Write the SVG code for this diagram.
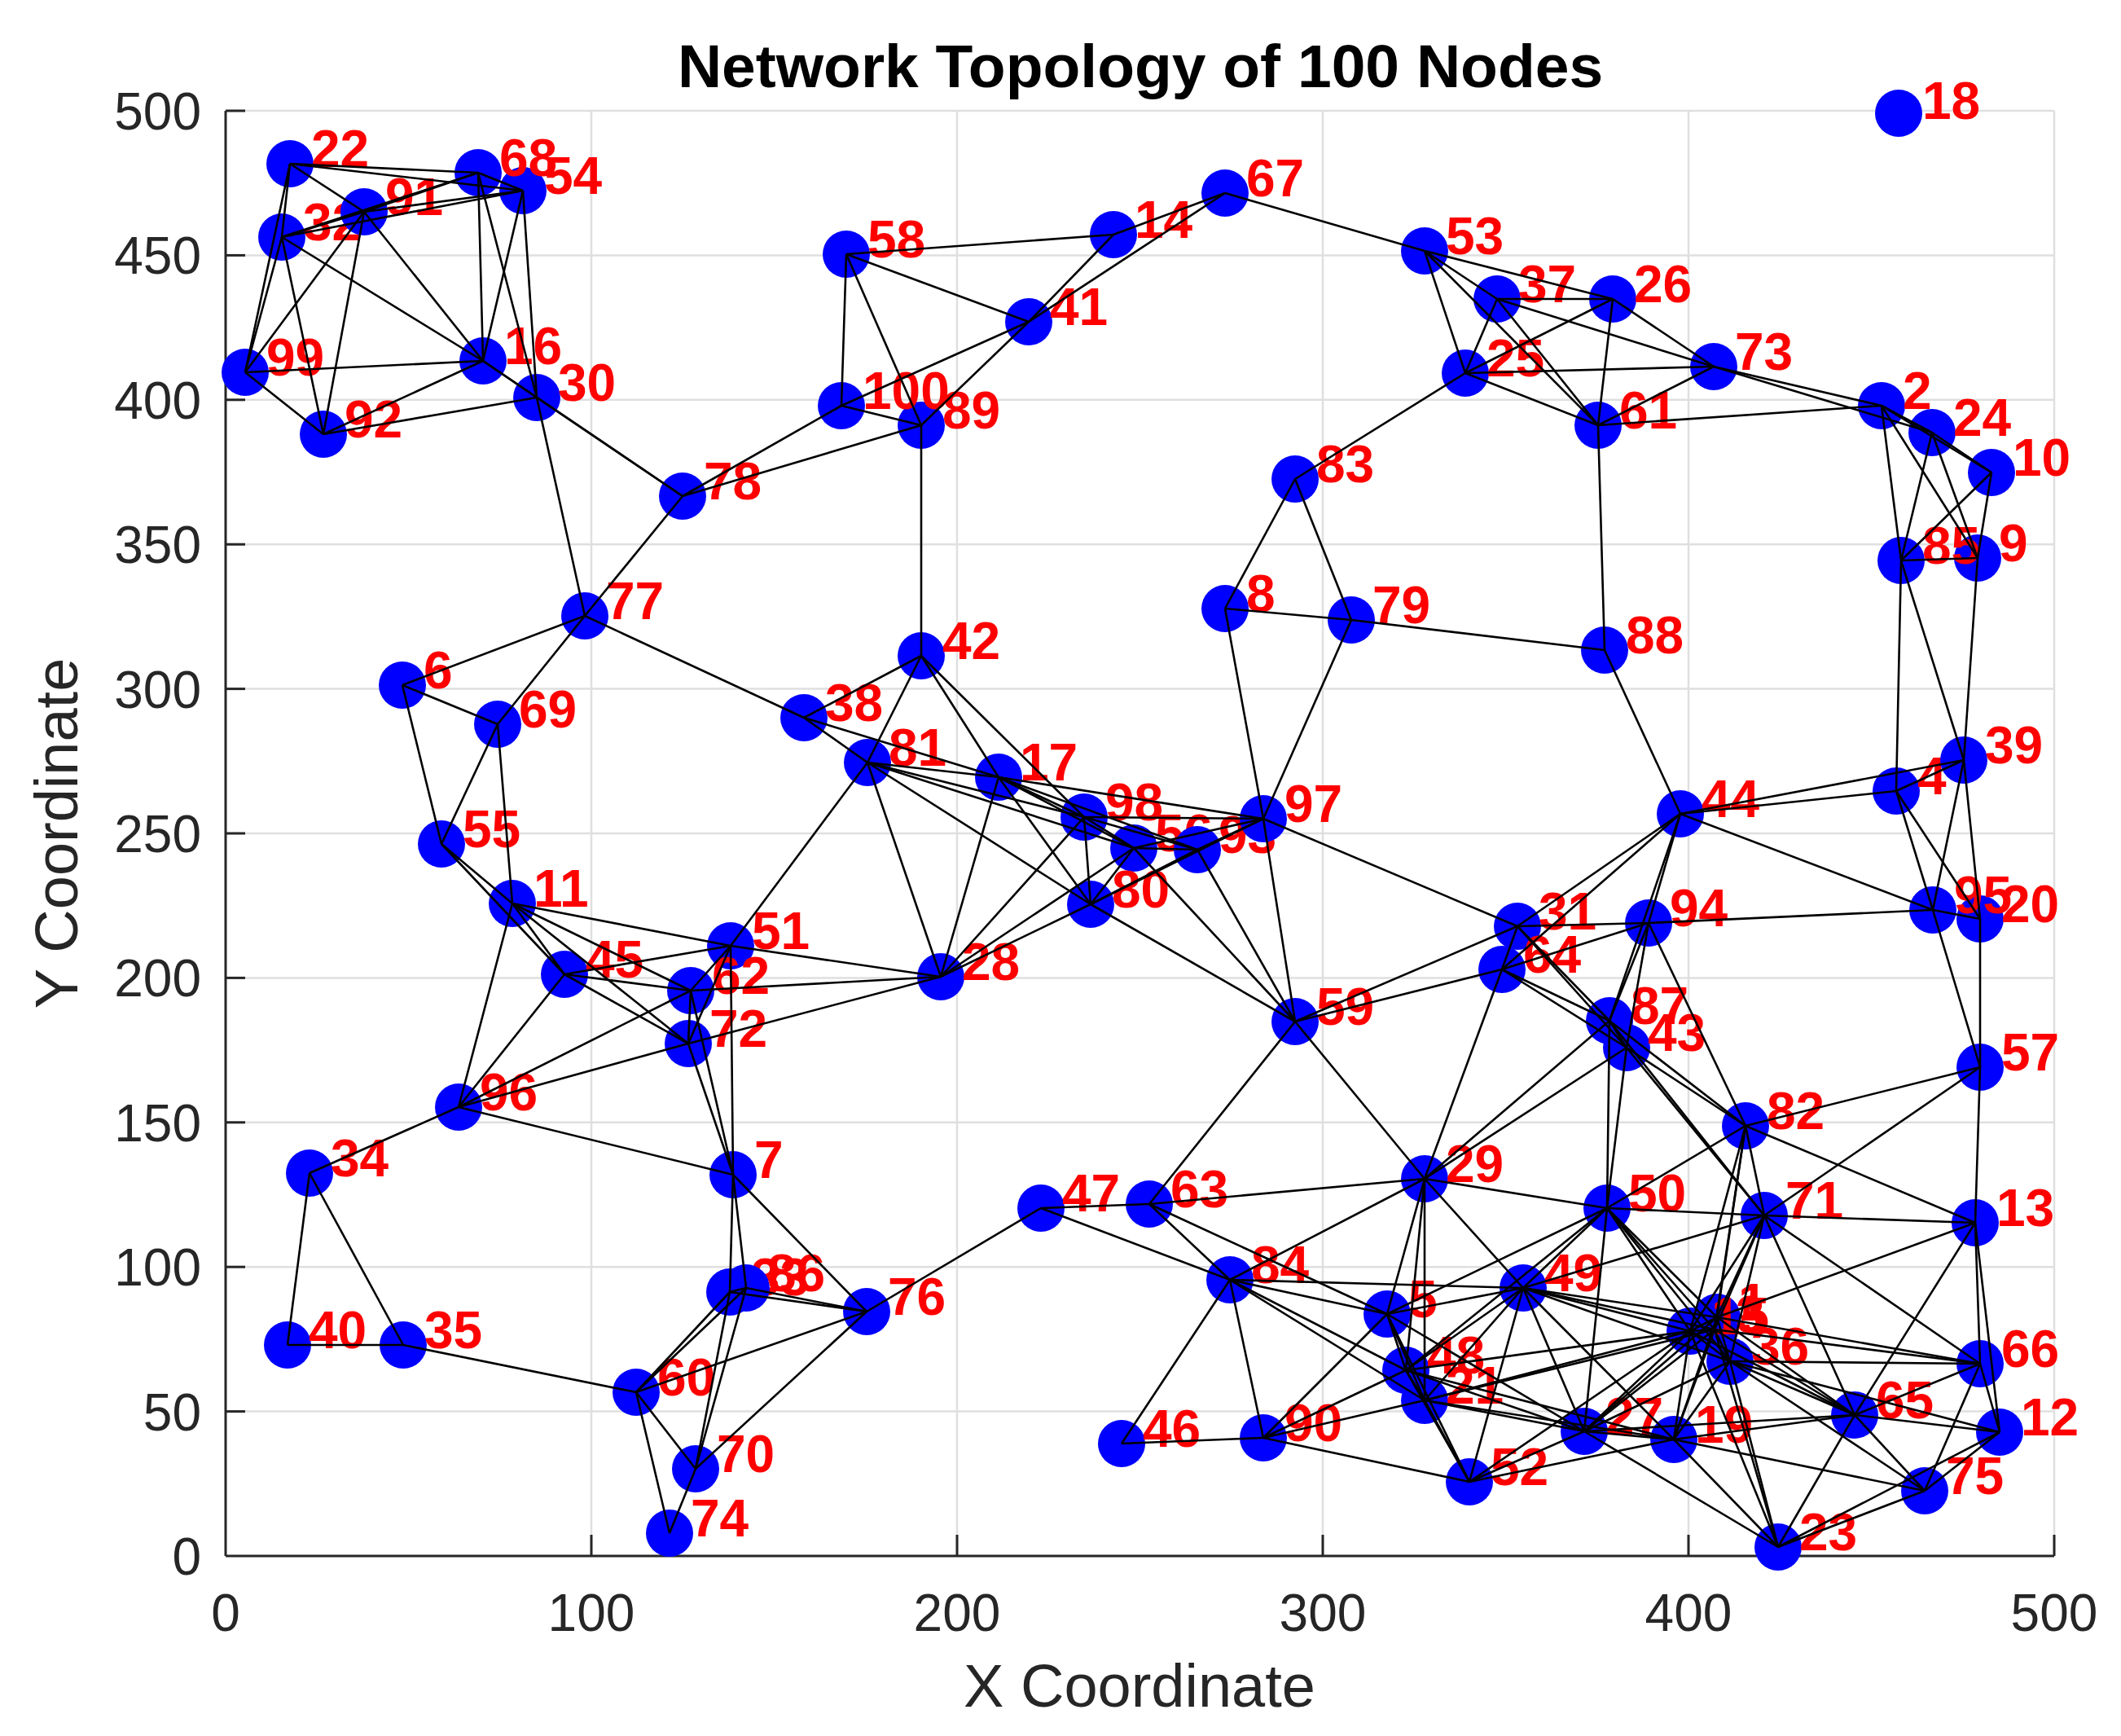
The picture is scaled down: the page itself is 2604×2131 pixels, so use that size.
<svg xmlns="http://www.w3.org/2000/svg" width="2604" height="2131" viewBox="0 0 2604 2131">
<style>
.bg{fill:#ffffff}
.grid line{stroke:#dfdfdf;stroke-width:2.5}
.axis line{stroke:#262626;stroke-width:3}
.tick{font-family:"Liberation Sans",Arial,sans-serif;font-size:64px;fill:#262626}
.alab{font-family:"Liberation Sans",Arial,sans-serif;font-size:74px;fill:#262626}
.title{font-family:"Liberation Sans",Arial,sans-serif;font-size:75px;font-weight:bold;fill:#000000}
.n circle{fill:#0000ff}
.n text{font-family:"Liberation Sans",Arial,sans-serif;font-size:64px;font-weight:bold;fill:#ff0000}
.edges line{stroke:#000000;stroke-width:2.6}
</style>
<rect class="bg" x="0" y="0" width="2604" height="2131"/>
<g class="grid">
<line x1="726" y1="136" x2="726" y2="1910"/><line x1="1175" y1="136" x2="1175" y2="1910"/><line x1="1624" y1="136" x2="1624" y2="1910"/><line x1="2073" y1="136" x2="2073" y2="1910"/><line x1="2522" y1="136" x2="2522" y2="1910"/>
<line x1="277" y1="136" x2="2522" y2="136"/><line x1="277" y1="313.4" x2="2522" y2="313.4"/><line x1="277" y1="490.8" x2="2522" y2="490.8"/><line x1="277" y1="668.2" x2="2522" y2="668.2"/><line x1="277" y1="845.6" x2="2522" y2="845.6"/><line x1="277" y1="1023" x2="2522" y2="1023"/><line x1="277" y1="1200.4" x2="2522" y2="1200.4"/><line x1="277" y1="1377.8" x2="2522" y2="1377.8"/><line x1="277" y1="1555.2" x2="2522" y2="1555.2"/><line x1="277" y1="1732.6" x2="2522" y2="1732.6"/>
</g>
<g class="axis">
<line x1="277" y1="136" x2="277" y2="1910"/><line x1="277" y1="1910" x2="2522" y2="1910"/>
<line x1="277" y1="136" x2="301" y2="136"/><line x1="277" y1="313.4" x2="301" y2="313.4"/><line x1="277" y1="490.8" x2="301" y2="490.8"/><line x1="277" y1="668.2" x2="301" y2="668.2"/><line x1="277" y1="845.6" x2="301" y2="845.6"/><line x1="277" y1="1023" x2="301" y2="1023"/><line x1="277" y1="1200.4" x2="301" y2="1200.4"/><line x1="277" y1="1377.8" x2="301" y2="1377.8"/><line x1="277" y1="1555.2" x2="301" y2="1555.2"/><line x1="277" y1="1732.6" x2="301" y2="1732.6"/>
<line x1="726" y1="1910" x2="726" y2="1884"/><line x1="1175" y1="1910" x2="1175" y2="1884"/><line x1="1624" y1="1910" x2="1624" y2="1884"/><line x1="2073" y1="1910" x2="2073" y2="1884"/><line x1="2522" y1="1910" x2="2522" y2="1884"/>
</g>
<g class="tick" text-anchor="end">
<text x="247" y="159">500</text><text x="247" y="336">450</text><text x="247" y="514">400</text><text x="247" y="691">350</text><text x="247" y="869">300</text><text x="247" y="1046">250</text><text x="247" y="1223">200</text><text x="247" y="1401">150</text><text x="247" y="1578">100</text><text x="247" y="1756">50</text><text x="247" y="1933">0</text>
</g>
<g class="tick" text-anchor="middle">
<text x="277" y="2002">0</text><text x="726" y="2002">100</text><text x="1175" y="2002">200</text><text x="1624" y="2002">300</text><text x="2073" y="2002">400</text><text x="2522" y="2002">500</text>
</g>
<text class="alab" x="1399" y="2095" text-anchor="middle">X Coordinate</text>
<text class="alab" transform="translate(95,1023) rotate(-90)" text-anchor="middle">Y Coordinate</text>
<text class="title" x="1400" y="107" text-anchor="middle">Network Topology of 100 Nodes</text>
<g id="nodes">
<g id="n1" class="n"><circle cx="2108" cy="1617" r="29"/><text x="2134" y="1621">1</text></g>
<g id="n2" class="n"><circle cx="2310" cy="498" r="29"/><text x="2336" y="502">2</text></g>
<g id="n3" class="n"><circle cx="2105" cy="1632" r="29"/><text x="2131" y="1636">3</text></g>
<g id="n4" class="n"><circle cx="2328" cy="971" r="29"/><text x="2354" y="975">4</text></g>
<g id="n5" class="n"><circle cx="1703" cy="1613" r="29"/><text x="1729" y="1617">5</text></g>
<g id="n6" class="n"><circle cx="494" cy="841" r="29"/><text x="520" y="845">6</text></g>
<g id="n7" class="n"><circle cx="900" cy="1442" r="29"/><text x="926" y="1446">7</text></g>
<g id="n8" class="n"><circle cx="1504" cy="747" r="29"/><text x="1530" y="751">8</text></g>
<g id="n9" class="n"><circle cx="2428" cy="685" r="29"/><text x="2454" y="689">9</text></g>
<g id="n10" class="n"><circle cx="2445" cy="580" r="29"/><text x="2471" y="584">10</text></g>
<g id="n11" class="n"><circle cx="629" cy="1109" r="29"/><text x="655" y="1113">11</text></g>
<g id="n12" class="n"><circle cx="2455" cy="1758" r="29"/><text x="2481" y="1762">12</text></g>
<g id="n13" class="n"><circle cx="2425" cy="1501" r="29"/><text x="2451" y="1505">13</text></g>
<g id="n14" class="n"><circle cx="1367" cy="288" r="29"/><text x="1393" y="292">14</text></g>
<g id="n15" class="n"><circle cx="2075" cy="1634" r="29"/><text x="2101" y="1638">15</text></g>
<g id="n16" class="n"><circle cx="593" cy="443" r="29"/><text x="619" y="447">16</text></g>
<g id="n17" class="n"><circle cx="1226" cy="954" r="29"/><text x="1252" y="958">17</text></g>
<g id="n18" class="n"><circle cx="2331" cy="139" r="29"/><text x="2360" y="146">18</text></g>
<g id="n19" class="n"><circle cx="2055" cy="1767" r="29"/><text x="2081" y="1771">19</text></g>
<g id="n20" class="n"><circle cx="2431" cy="1128" r="29"/><text x="2457" y="1132">20</text></g>
<g id="n21" class="n"><circle cx="1749" cy="1719" r="29"/><text x="1775" y="1723">21</text></g>
<g id="n22" class="n"><circle cx="356" cy="201" r="29"/><text x="382" y="205">22</text></g>
<g id="n23" class="n"><circle cx="2183" cy="1899" r="29"/><text x="2209" y="1903">23</text></g>
<g id="n24" class="n"><circle cx="2372" cy="531" r="29"/><text x="2398" y="535">24</text></g>
<g id="n25" class="n"><circle cx="1799" cy="458" r="29"/><text x="1825" y="462">25</text></g>
<g id="n26" class="n"><circle cx="1980" cy="367" r="29"/><text x="2006" y="371">26</text></g>
<g id="n27" class="n"><circle cx="1945" cy="1757" r="29"/><text x="1971" y="1761">27</text></g>
<g id="n28" class="n"><circle cx="1155" cy="1199" r="29"/><text x="1181" y="1203">28</text></g>
<g id="n29" class="n"><circle cx="1749" cy="1447" r="29"/><text x="1775" y="1451">29</text></g>
<g id="n30" class="n"><circle cx="659" cy="488" r="29"/><text x="685" y="492">30</text></g>
<g id="n31" class="n"><circle cx="1863" cy="1137" r="29"/><text x="1889" y="1141">31</text></g>
<g id="n32" class="n"><circle cx="346" cy="291" r="29"/><text x="372" y="295">32</text></g>
<g id="n33" class="n"><circle cx="896" cy="1586" r="29"/><text x="922" y="1590">33</text></g>
<g id="n34" class="n"><circle cx="380" cy="1440" r="29"/><text x="406" y="1444">34</text></g>
<g id="n35" class="n"><circle cx="495" cy="1651" r="29"/><text x="521" y="1655">35</text></g>
<g id="n36" class="n"><circle cx="2124" cy="1671" r="29"/><text x="2150" y="1675">36</text></g>
<g id="n37" class="n"><circle cx="1838" cy="367" r="29"/><text x="1864" y="371">37</text></g>
<g id="n38" class="n"><circle cx="987" cy="881" r="29"/><text x="1013" y="885">38</text></g>
<g id="n39" class="n"><circle cx="2411" cy="933" r="29"/><text x="2437" y="937">39</text></g>
<g id="n40" class="n"><circle cx="353" cy="1651" r="29"/><text x="379" y="1655">40</text></g>
<g id="n41" class="n"><circle cx="1263" cy="395" r="29"/><text x="1289" y="399">41</text></g>
<g id="n42" class="n"><circle cx="1131" cy="805" r="29"/><text x="1157" y="809">42</text></g>
<g id="n43" class="n"><circle cx="1997" cy="1286" r="29"/><text x="2023" y="1290">43</text></g>
<g id="n44" class="n"><circle cx="2063" cy="999" r="29"/><text x="2089" y="1003">44</text></g>
<g id="n45" class="n"><circle cx="693" cy="1196" r="29"/><text x="719" y="1200">45</text></g>
<g id="n46" class="n"><circle cx="1377" cy="1772" r="29"/><text x="1403" y="1776">46</text></g>
<g id="n47" class="n"><circle cx="1278" cy="1483" r="29"/><text x="1304" y="1487">47</text></g>
<g id="n48" class="n"><circle cx="1726" cy="1682" r="29"/><text x="1752" y="1686">48</text></g>
<g id="n49" class="n"><circle cx="1870" cy="1581" r="29"/><text x="1896" y="1585">49</text></g>
<g id="n50" class="n"><circle cx="1973" cy="1483" r="29"/><text x="1999" y="1487">50</text></g>
<g id="n51" class="n"><circle cx="897" cy="1161" r="29"/><text x="923" y="1165">51</text></g>
<g id="n52" class="n"><circle cx="1804" cy="1819" r="29"/><text x="1830" y="1823">52</text></g>
<g id="n53" class="n"><circle cx="1749" cy="308" r="29"/><text x="1775" y="312">53</text></g>
<g id="n54" class="n"><circle cx="642" cy="234" r="29"/><text x="668" y="238">54</text></g>
<g id="n55" class="n"><circle cx="542" cy="1036" r="29"/><text x="568" y="1040">55</text></g>
<g id="n56" class="n"><circle cx="1392" cy="1041" r="29"/><text x="1418" y="1045">56</text></g>
<g id="n57" class="n"><circle cx="2431" cy="1310" r="29"/><text x="2457" y="1314">57</text></g>
<g id="n58" class="n"><circle cx="1039" cy="312" r="29"/><text x="1065" y="316">58</text></g>
<g id="n59" class="n"><circle cx="1590" cy="1254" r="29"/><text x="1616" y="1258">59</text></g>
<g id="n60" class="n"><circle cx="781" cy="1709" r="29"/><text x="807" y="1713">60</text></g>
<g id="n61" class="n"><circle cx="1962" cy="522" r="29"/><text x="1988" y="526">61</text></g>
<g id="n62" class="n"><circle cx="848" cy="1216" r="29"/><text x="874" y="1220">62</text></g>
<g id="n63" class="n"><circle cx="1411" cy="1478" r="29"/><text x="1437" y="1482">63</text></g>
<g id="n64" class="n"><circle cx="1844" cy="1190" r="29"/><text x="1870" y="1194">64</text></g>
<g id="n65" class="n"><circle cx="2277" cy="1737" r="29"/><text x="2303" y="1741">65</text></g>
<g id="n66" class="n"><circle cx="2431" cy="1674" r="29"/><text x="2457" y="1678">66</text></g>
<g id="n67" class="n"><circle cx="1504" cy="237" r="29"/><text x="1530" y="241">67</text></g>
<g id="n68" class="n"><circle cx="587" cy="212" r="29"/><text x="613" y="216">68</text></g>
<g id="n69" class="n"><circle cx="611" cy="889" r="29"/><text x="637" y="893">69</text></g>
<g id="n70" class="n"><circle cx="854" cy="1803" r="29"/><text x="880" y="1807">70</text></g>
<g id="n71" class="n"><circle cx="2166" cy="1492" r="29"/><text x="2192" y="1496">71</text></g>
<g id="n72" class="n"><circle cx="845" cy="1281" r="29"/><text x="871" y="1285">72</text></g>
<g id="n73" class="n"><circle cx="2104" cy="450" r="29"/><text x="2130" y="454">73</text></g>
<g id="n74" class="n"><circle cx="822" cy="1882" r="29"/><text x="848" y="1886">74</text></g>
<g id="n75" class="n"><circle cx="2363" cy="1830" r="29"/><text x="2389" y="1834">75</text></g>
<g id="n76" class="n"><circle cx="1064" cy="1610" r="29"/><text x="1090" y="1614">76</text></g>
<g id="n77" class="n"><circle cx="718" cy="756" r="29"/><text x="744" y="760">77</text></g>
<g id="n78" class="n"><circle cx="838" cy="609" r="29"/><text x="864" y="613">78</text></g>
<g id="n79" class="n"><circle cx="1659" cy="761" r="29"/><text x="1685" y="765">79</text></g>
<g id="n80" class="n"><circle cx="1339" cy="1110" r="29"/><text x="1365" y="1114">80</text></g>
<g id="n81" class="n"><circle cx="1065" cy="936" r="29"/><text x="1091" y="940">81</text></g>
<g id="n82" class="n"><circle cx="2143" cy="1382" r="29"/><text x="2169" y="1386">82</text></g>
<g id="n83" class="n"><circle cx="1590" cy="588" r="29"/><text x="1616" y="592">83</text></g>
<g id="n84" class="n"><circle cx="1510" cy="1571" r="29"/><text x="1536" y="1575">84</text></g>
<g id="n85" class="n"><circle cx="2334" cy="688" r="29"/><text x="2360" y="692">85</text></g>
<g id="n86" class="n"><circle cx="916" cy="1581" r="29"/><text x="942" y="1585">86</text></g>
<g id="n87" class="n"><circle cx="1976" cy="1253" r="29"/><text x="2002" y="1257">87</text></g>
<g id="n88" class="n"><circle cx="1970" cy="798" r="29"/><text x="1996" y="802">88</text></g>
<g id="n89" class="n"><circle cx="1131" cy="522" r="29"/><text x="1157" y="526">89</text></g>
<g id="n90" class="n"><circle cx="1551" cy="1765" r="29"/><text x="1577" y="1769">90</text></g>
<g id="n91" class="n"><circle cx="447" cy="260" r="29"/><text x="473" y="264">91</text></g>
<g id="n92" class="n"><circle cx="397" cy="533" r="29"/><text x="423" y="537">92</text></g>
<g id="n93" class="n"><circle cx="1470" cy="1043" r="29"/><text x="1496" y="1047">93</text></g>
<g id="n94" class="n"><circle cx="2024" cy="1133" r="29"/><text x="2050" y="1137">94</text></g>
<g id="n95" class="n"><circle cx="2373" cy="1117" r="29"/><text x="2399" y="1121">95</text></g>
<g id="n96" class="n"><circle cx="563" cy="1359" r="29"/><text x="589" y="1363">96</text></g>
<g id="n97" class="n"><circle cx="1551" cy="1005" r="29"/><text x="1577" y="1009">97</text></g>
<g id="n98" class="n"><circle cx="1331" cy="1003" r="29"/><text x="1357" y="1007">98</text></g>
<g id="n99" class="n"><circle cx="301" cy="457" r="29"/><text x="327" y="461">99</text></g>
<g id="n100" class="n"><circle cx="1033" cy="498" r="29"/><text x="1059" y="502">100</text></g>
</g>
<g id="connectors" class="edges">
<line x1="301" y1="457" x2="346" y2="291"/><line x1="301" y1="457" x2="356" y2="201"/><line x1="301" y1="457" x2="397" y2="533"/><line x1="301" y1="457" x2="447" y2="260"/><line x1="301" y1="457" x2="593" y2="443"/>
<line x1="346" y1="291" x2="356" y2="201"/><line x1="346" y1="291" x2="397" y2="533"/><line x1="346" y1="291" x2="447" y2="260"/><line x1="346" y1="291" x2="587" y2="212"/><line x1="346" y1="291" x2="593" y2="443"/><line x1="346" y1="291" x2="642" y2="234"/>
<line x1="353" y1="1651" x2="380" y2="1440"/><line x1="353" y1="1651" x2="495" y2="1651"/>
<line x1="356" y1="201" x2="447" y2="260"/><line x1="356" y1="201" x2="587" y2="212"/><line x1="356" y1="201" x2="642" y2="234"/>
<line x1="380" y1="1440" x2="495" y2="1651"/><line x1="380" y1="1440" x2="563" y2="1359"/>
<line x1="397" y1="533" x2="447" y2="260"/><line x1="397" y1="533" x2="593" y2="443"/><line x1="397" y1="533" x2="659" y2="488"/>
<line x1="447" y1="260" x2="587" y2="212"/><line x1="447" y1="260" x2="593" y2="443"/><line x1="447" y1="260" x2="642" y2="234"/>
<line x1="494" y1="841" x2="542" y2="1036"/><line x1="494" y1="841" x2="611" y2="889"/><line x1="494" y1="841" x2="718" y2="756"/>
<line x1="495" y1="1651" x2="781" y2="1709"/>
<line x1="542" y1="1036" x2="611" y2="889"/><line x1="542" y1="1036" x2="629" y2="1109"/><line x1="542" y1="1036" x2="693" y2="1196"/>
<line x1="563" y1="1359" x2="629" y2="1109"/><line x1="563" y1="1359" x2="693" y2="1196"/><line x1="563" y1="1359" x2="845" y2="1281"/><line x1="563" y1="1359" x2="848" y2="1216"/><line x1="563" y1="1359" x2="900" y2="1442"/>
<line x1="587" y1="212" x2="593" y2="443"/><line x1="587" y1="212" x2="642" y2="234"/><line x1="587" y1="212" x2="659" y2="488"/>
<line x1="593" y1="443" x2="642" y2="234"/><line x1="593" y1="443" x2="659" y2="488"/><line x1="593" y1="443" x2="838" y2="609"/>
<line x1="611" y1="889" x2="629" y2="1109"/><line x1="611" y1="889" x2="718" y2="756"/>
<line x1="629" y1="1109" x2="693" y2="1196"/><line x1="629" y1="1109" x2="845" y2="1281"/><line x1="629" y1="1109" x2="848" y2="1216"/><line x1="629" y1="1109" x2="897" y2="1161"/>
<line x1="642" y1="234" x2="659" y2="488"/>
<line x1="659" y1="488" x2="718" y2="756"/><line x1="659" y1="488" x2="838" y2="609"/>
<line x1="693" y1="1196" x2="845" y2="1281"/><line x1="693" y1="1196" x2="848" y2="1216"/><line x1="693" y1="1196" x2="897" y2="1161"/>
<line x1="718" y1="756" x2="838" y2="609"/><line x1="718" y1="756" x2="987" y2="881"/>
<line x1="781" y1="1709" x2="822" y2="1882"/><line x1="781" y1="1709" x2="854" y2="1803"/><line x1="781" y1="1709" x2="896" y2="1586"/><line x1="781" y1="1709" x2="916" y2="1581"/><line x1="781" y1="1709" x2="1064" y2="1610"/>
<line x1="822" y1="1882" x2="854" y2="1803"/>
<line x1="838" y1="609" x2="1033" y2="498"/><line x1="838" y1="609" x2="1131" y2="522"/>
<line x1="845" y1="1281" x2="848" y2="1216"/><line x1="845" y1="1281" x2="897" y2="1161"/><line x1="845" y1="1281" x2="900" y2="1442"/><line x1="845" y1="1281" x2="1155" y2="1199"/>
<line x1="848" y1="1216" x2="897" y2="1161"/><line x1="848" y1="1216" x2="900" y2="1442"/><line x1="848" y1="1216" x2="1155" y2="1199"/>
<line x1="854" y1="1803" x2="896" y2="1586"/><line x1="854" y1="1803" x2="916" y2="1581"/><line x1="854" y1="1803" x2="1064" y2="1610"/>
<line x1="896" y1="1586" x2="900" y2="1442"/><line x1="896" y1="1586" x2="916" y2="1581"/><line x1="896" y1="1586" x2="1064" y2="1610"/>
<line x1="897" y1="1161" x2="900" y2="1442"/><line x1="897" y1="1161" x2="1065" y2="936"/><line x1="897" y1="1161" x2="1155" y2="1199"/>
<line x1="900" y1="1442" x2="916" y2="1581"/><line x1="900" y1="1442" x2="1064" y2="1610"/>
<line x1="916" y1="1581" x2="1064" y2="1610"/>
<line x1="987" y1="881" x2="1065" y2="936"/><line x1="987" y1="881" x2="1131" y2="805"/><line x1="987" y1="881" x2="1226" y2="954"/>
<line x1="1033" y1="498" x2="1039" y2="312"/><line x1="1033" y1="498" x2="1131" y2="522"/><line x1="1033" y1="498" x2="1263" y2="395"/>
<line x1="1039" y1="312" x2="1131" y2="522"/><line x1="1039" y1="312" x2="1263" y2="395"/><line x1="1039" y1="312" x2="1367" y2="288"/>
<line x1="1064" y1="1610" x2="1278" y2="1483"/>
<line x1="1065" y1="936" x2="1131" y2="805"/><line x1="1065" y1="936" x2="1155" y2="1199"/><line x1="1065" y1="936" x2="1226" y2="954"/><line x1="1065" y1="936" x2="1331" y2="1003"/><line x1="1065" y1="936" x2="1339" y2="1110"/><line x1="1065" y1="936" x2="1392" y2="1041"/>
<line x1="1131" y1="805" x2="1131" y2="522"/><line x1="1131" y1="805" x2="1226" y2="954"/><line x1="1131" y1="805" x2="1331" y2="1003"/>
<line x1="1131" y1="522" x2="1263" y2="395"/>
<line x1="1155" y1="1199" x2="1226" y2="954"/><line x1="1155" y1="1199" x2="1331" y2="1003"/><line x1="1155" y1="1199" x2="1339" y2="1110"/><line x1="1155" y1="1199" x2="1392" y2="1041"/>
<line x1="1226" y1="954" x2="1331" y2="1003"/><line x1="1226" y1="954" x2="1339" y2="1110"/><line x1="1226" y1="954" x2="1392" y2="1041"/><line x1="1226" y1="954" x2="1470" y2="1043"/><line x1="1226" y1="954" x2="1551" y2="1005"/>
<line x1="1263" y1="395" x2="1367" y2="288"/><line x1="1263" y1="395" x2="1504" y2="237"/>
<line x1="1278" y1="1483" x2="1411" y2="1478"/><line x1="1278" y1="1483" x2="1510" y2="1571"/>
<line x1="1331" y1="1003" x2="1339" y2="1110"/><line x1="1331" y1="1003" x2="1392" y2="1041"/><line x1="1331" y1="1003" x2="1470" y2="1043"/><line x1="1331" y1="1003" x2="1551" y2="1005"/>
<line x1="1339" y1="1110" x2="1392" y2="1041"/><line x1="1339" y1="1110" x2="1470" y2="1043"/><line x1="1339" y1="1110" x2="1551" y2="1005"/><line x1="1339" y1="1110" x2="1590" y2="1254"/>
<line x1="1367" y1="288" x2="1504" y2="237"/>
<line x1="1377" y1="1772" x2="1510" y2="1571"/><line x1="1377" y1="1772" x2="1551" y2="1765"/>
<line x1="1392" y1="1041" x2="1470" y2="1043"/><line x1="1392" y1="1041" x2="1551" y2="1005"/><line x1="1392" y1="1041" x2="1590" y2="1254"/>
<line x1="1411" y1="1478" x2="1510" y2="1571"/><line x1="1411" y1="1478" x2="1590" y2="1254"/><line x1="1411" y1="1478" x2="1703" y2="1613"/><line x1="1411" y1="1478" x2="1749" y2="1447"/>
<line x1="1470" y1="1043" x2="1551" y2="1005"/><line x1="1470" y1="1043" x2="1590" y2="1254"/>
<line x1="1504" y1="747" x2="1551" y2="1005"/><line x1="1504" y1="747" x2="1590" y2="588"/><line x1="1504" y1="747" x2="1659" y2="761"/>
<line x1="1504" y1="237" x2="1749" y2="308"/>
<line x1="1510" y1="1571" x2="1551" y2="1765"/><line x1="1510" y1="1571" x2="1703" y2="1613"/><line x1="1510" y1="1571" x2="1726" y2="1682"/><line x1="1510" y1="1571" x2="1749" y2="1719"/><line x1="1510" y1="1571" x2="1749" y2="1447"/><line x1="1510" y1="1571" x2="1870" y2="1581"/>
<line x1="1551" y1="1765" x2="1703" y2="1613"/><line x1="1551" y1="1765" x2="1726" y2="1682"/><line x1="1551" y1="1765" x2="1749" y2="1719"/><line x1="1551" y1="1765" x2="1804" y2="1819"/>
<line x1="1551" y1="1005" x2="1590" y2="1254"/><line x1="1551" y1="1005" x2="1659" y2="761"/><line x1="1551" y1="1005" x2="1863" y2="1137"/>
<line x1="1590" y1="1254" x2="1749" y2="1447"/><line x1="1590" y1="1254" x2="1844" y2="1190"/><line x1="1590" y1="1254" x2="1863" y2="1137"/>
<line x1="1590" y1="588" x2="1659" y2="761"/><line x1="1590" y1="588" x2="1799" y2="458"/>
<line x1="1659" y1="761" x2="1970" y2="798"/>
<line x1="1703" y1="1613" x2="1726" y2="1682"/><line x1="1703" y1="1613" x2="1749" y2="1719"/><line x1="1703" y1="1613" x2="1749" y2="1447"/><line x1="1703" y1="1613" x2="1804" y2="1819"/><line x1="1703" y1="1613" x2="1870" y2="1581"/><line x1="1703" y1="1613" x2="1945" y2="1757"/><line x1="1703" y1="1613" x2="1973" y2="1483"/>
<line x1="1726" y1="1682" x2="1749" y2="1719"/><line x1="1726" y1="1682" x2="1749" y2="1447"/><line x1="1726" y1="1682" x2="1804" y2="1819"/><line x1="1726" y1="1682" x2="1870" y2="1581"/><line x1="1726" y1="1682" x2="1945" y2="1757"/><line x1="1726" y1="1682" x2="1973" y2="1483"/><line x1="1726" y1="1682" x2="2055" y2="1767"/><line x1="1726" y1="1682" x2="2075" y2="1634"/>
<line x1="1749" y1="1719" x2="1749" y2="1447"/><line x1="1749" y1="1719" x2="1804" y2="1819"/><line x1="1749" y1="1719" x2="1870" y2="1581"/><line x1="1749" y1="1719" x2="1945" y2="1757"/><line x1="1749" y1="1719" x2="2055" y2="1767"/><line x1="1749" y1="1719" x2="2075" y2="1634"/><line x1="1749" y1="1719" x2="2105" y2="1632"/>
<line x1="1749" y1="1447" x2="1844" y2="1190"/><line x1="1749" y1="1447" x2="1870" y2="1581"/><line x1="1749" y1="1447" x2="1973" y2="1483"/><line x1="1749" y1="1447" x2="1976" y2="1253"/><line x1="1749" y1="1447" x2="1997" y2="1286"/>
<line x1="1749" y1="308" x2="1799" y2="458"/><line x1="1749" y1="308" x2="1838" y2="367"/><line x1="1749" y1="308" x2="1962" y2="522"/><line x1="1749" y1="308" x2="1980" y2="367"/>
<line x1="1799" y1="458" x2="1838" y2="367"/><line x1="1799" y1="458" x2="1962" y2="522"/><line x1="1799" y1="458" x2="1980" y2="367"/><line x1="1799" y1="458" x2="2104" y2="450"/>
<line x1="1804" y1="1819" x2="1870" y2="1581"/><line x1="1804" y1="1819" x2="1945" y2="1757"/><line x1="1804" y1="1819" x2="2055" y2="1767"/><line x1="1804" y1="1819" x2="2075" y2="1634"/>
<line x1="1838" y1="367" x2="1962" y2="522"/><line x1="1838" y1="367" x2="1980" y2="367"/><line x1="1838" y1="367" x2="2104" y2="450"/>
<line x1="1844" y1="1190" x2="1863" y2="1137"/><line x1="1844" y1="1190" x2="1976" y2="1253"/><line x1="1844" y1="1190" x2="1997" y2="1286"/><line x1="1844" y1="1190" x2="2024" y2="1133"/><line x1="1844" y1="1190" x2="2063" y2="999"/>
<line x1="1863" y1="1137" x2="1976" y2="1253"/><line x1="1863" y1="1137" x2="1997" y2="1286"/><line x1="1863" y1="1137" x2="2024" y2="1133"/><line x1="1863" y1="1137" x2="2063" y2="999"/>
<line x1="1870" y1="1581" x2="1945" y2="1757"/><line x1="1870" y1="1581" x2="1973" y2="1483"/><line x1="1870" y1="1581" x2="2055" y2="1767"/><line x1="1870" y1="1581" x2="2075" y2="1634"/><line x1="1870" y1="1581" x2="2105" y2="1632"/><line x1="1870" y1="1581" x2="2108" y2="1617"/><line x1="1870" y1="1581" x2="2124" y2="1671"/><line x1="1870" y1="1581" x2="2166" y2="1492"/>
<line x1="1945" y1="1757" x2="1973" y2="1483"/><line x1="1945" y1="1757" x2="2055" y2="1767"/><line x1="1945" y1="1757" x2="2075" y2="1634"/><line x1="1945" y1="1757" x2="2105" y2="1632"/><line x1="1945" y1="1757" x2="2108" y2="1617"/><line x1="1945" y1="1757" x2="2124" y2="1671"/><line x1="1945" y1="1757" x2="2183" y2="1899"/><line x1="1945" y1="1757" x2="2277" y2="1737"/>
<line x1="1962" y1="522" x2="1970" y2="798"/><line x1="1962" y1="522" x2="1980" y2="367"/><line x1="1962" y1="522" x2="2104" y2="450"/><line x1="1962" y1="522" x2="2310" y2="498"/>
<line x1="1970" y1="798" x2="2063" y2="999"/>
<line x1="1973" y1="1483" x2="1976" y2="1253"/><line x1="1973" y1="1483" x2="1997" y2="1286"/><line x1="1973" y1="1483" x2="2075" y2="1634"/><line x1="1973" y1="1483" x2="2105" y2="1632"/><line x1="1973" y1="1483" x2="2108" y2="1617"/><line x1="1973" y1="1483" x2="2124" y2="1671"/><line x1="1973" y1="1483" x2="2143" y2="1382"/><line x1="1973" y1="1483" x2="2166" y2="1492"/>
<line x1="1976" y1="1253" x2="1997" y2="1286"/><line x1="1976" y1="1253" x2="2024" y2="1133"/><line x1="1976" y1="1253" x2="2063" y2="999"/><line x1="1976" y1="1253" x2="2143" y2="1382"/><line x1="1976" y1="1253" x2="2166" y2="1492"/>
<line x1="1980" y1="367" x2="2104" y2="450"/>
<line x1="1997" y1="1286" x2="2024" y2="1133"/><line x1="1997" y1="1286" x2="2143" y2="1382"/><line x1="1997" y1="1286" x2="2166" y2="1492"/>
<line x1="2024" y1="1133" x2="2063" y2="999"/><line x1="2024" y1="1133" x2="2143" y2="1382"/><line x1="2024" y1="1133" x2="2373" y2="1117"/>
<line x1="2055" y1="1767" x2="2075" y2="1634"/><line x1="2055" y1="1767" x2="2105" y2="1632"/><line x1="2055" y1="1767" x2="2108" y2="1617"/><line x1="2055" y1="1767" x2="2124" y2="1671"/><line x1="2055" y1="1767" x2="2183" y2="1899"/><line x1="2055" y1="1767" x2="2277" y2="1737"/><line x1="2055" y1="1767" x2="2363" y2="1830"/>
<line x1="2063" y1="999" x2="2328" y2="971"/><line x1="2063" y1="999" x2="2373" y2="1117"/><line x1="2063" y1="999" x2="2411" y2="933"/>
<line x1="2075" y1="1634" x2="2105" y2="1632"/><line x1="2075" y1="1634" x2="2108" y2="1617"/><line x1="2075" y1="1634" x2="2124" y2="1671"/><line x1="2075" y1="1634" x2="2143" y2="1382"/><line x1="2075" y1="1634" x2="2166" y2="1492"/><line x1="2075" y1="1634" x2="2183" y2="1899"/><line x1="2075" y1="1634" x2="2277" y2="1737"/>
<line x1="2105" y1="1632" x2="2108" y2="1617"/><line x1="2105" y1="1632" x2="2124" y2="1671"/><line x1="2105" y1="1632" x2="2143" y2="1382"/><line x1="2105" y1="1632" x2="2166" y2="1492"/><line x1="2105" y1="1632" x2="2183" y2="1899"/><line x1="2105" y1="1632" x2="2277" y2="1737"/><line x1="2105" y1="1632" x2="2431" y2="1674"/>
<line x1="2108" y1="1617" x2="2124" y2="1671"/><line x1="2108" y1="1617" x2="2143" y2="1382"/><line x1="2108" y1="1617" x2="2166" y2="1492"/><line x1="2108" y1="1617" x2="2277" y2="1737"/><line x1="2108" y1="1617" x2="2425" y2="1501"/><line x1="2108" y1="1617" x2="2431" y2="1674"/>
<line x1="2124" y1="1671" x2="2166" y2="1492"/><line x1="2124" y1="1671" x2="2183" y2="1899"/><line x1="2124" y1="1671" x2="2277" y2="1737"/><line x1="2124" y1="1671" x2="2363" y2="1830"/><line x1="2124" y1="1671" x2="2431" y2="1674"/><line x1="2124" y1="1671" x2="2455" y2="1758"/>
<line x1="2143" y1="1382" x2="2166" y2="1492"/><line x1="2143" y1="1382" x2="2425" y2="1501"/><line x1="2143" y1="1382" x2="2431" y2="1310"/>
<line x1="2166" y1="1492" x2="2277" y2="1737"/><line x1="2166" y1="1492" x2="2425" y2="1501"/><line x1="2166" y1="1492" x2="2431" y2="1310"/><line x1="2166" y1="1492" x2="2431" y2="1674"/>
<line x1="2183" y1="1899" x2="2277" y2="1737"/><line x1="2183" y1="1899" x2="2363" y2="1830"/><line x1="2183" y1="1899" x2="2455" y2="1758"/>
<line x1="2277" y1="1737" x2="2363" y2="1830"/><line x1="2277" y1="1737" x2="2425" y2="1501"/><line x1="2277" y1="1737" x2="2431" y2="1674"/><line x1="2277" y1="1737" x2="2455" y2="1758"/>
<line x1="2310" y1="498" x2="2334" y2="688"/><line x1="2310" y1="498" x2="2372" y2="531"/><line x1="2310" y1="498" x2="2428" y2="685"/><line x1="2310" y1="498" x2="2445" y2="580"/>
<line x1="2328" y1="971" x2="2334" y2="688"/><line x1="2328" y1="971" x2="2373" y2="1117"/><line x1="2328" y1="971" x2="2411" y2="933"/><line x1="2328" y1="971" x2="2431" y2="1128"/>
<line x1="2334" y1="688" x2="2372" y2="531"/><line x1="2334" y1="688" x2="2411" y2="933"/><line x1="2334" y1="688" x2="2428" y2="685"/><line x1="2334" y1="688" x2="2445" y2="580"/>
<line x1="2363" y1="1830" x2="2431" y2="1674"/><line x1="2363" y1="1830" x2="2455" y2="1758"/>
<line x1="2372" y1="531" x2="2428" y2="685"/><line x1="2372" y1="531" x2="2445" y2="580"/>
<line x1="2373" y1="1117" x2="2411" y2="933"/><line x1="2373" y1="1117" x2="2431" y2="1310"/><line x1="2373" y1="1117" x2="2431" y2="1128"/>
<line x1="2411" y1="933" x2="2428" y2="685"/><line x1="2411" y1="933" x2="2431" y2="1128"/>
<line x1="2425" y1="1501" x2="2431" y2="1310"/><line x1="2425" y1="1501" x2="2431" y2="1674"/><line x1="2425" y1="1501" x2="2455" y2="1758"/>
<line x1="2428" y1="685" x2="2445" y2="580"/>
<line x1="2431" y1="1310" x2="2431" y2="1128"/>
<line x1="2431" y1="1674" x2="2455" y2="1758"/>
<line x1="2104" y1="450" x2="2310" y2="498"/><line x1="2104" y1="450" x2="2372" y2="531"/>
</g>
</svg>
